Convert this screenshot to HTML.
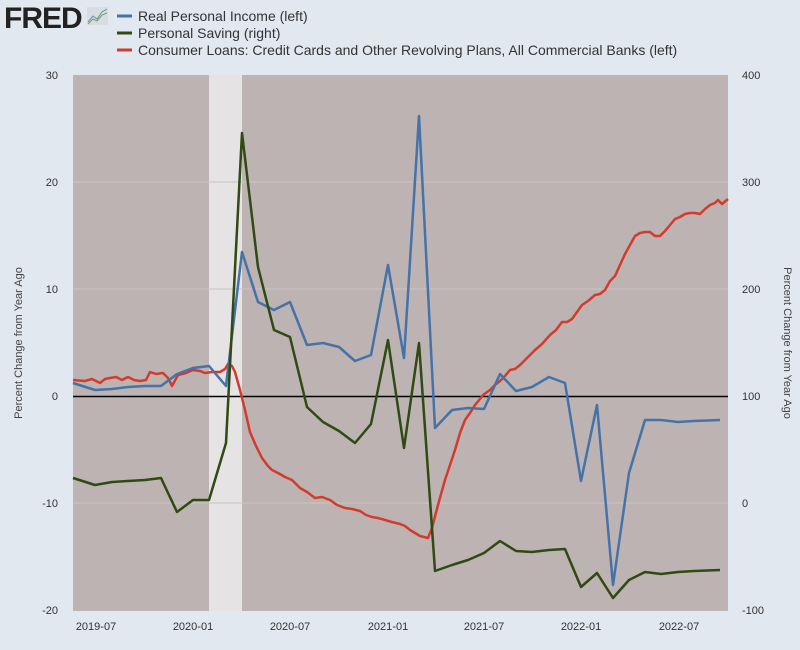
<!DOCTYPE html>
<html><head><style>
body{margin:0;background:#e1e8f0;}
svg text{font-family:"Liberation Sans",sans-serif;}
</style></head><body>
<svg width="800" height="645" xmlns="http://www.w3.org/2000/svg">
<rect width="800" height="645" fill="#e1e8f0"/>
<text x="4" y="28" font-size="30" font-weight="bold" fill="#222" letter-spacing="-1">FRED</text>
<rect x="87" y="7" width="21" height="18" fill="#d8dde4"/>
<polyline points="88,22 93,16 97,19 102,12 107,9" fill="none" stroke="#6a8cc0" stroke-width="1"/>
<polyline points="88,24 93,19 97,21 102,15 107,13" fill="none" stroke="#7aa050" stroke-width="1"/>
<line x1="117" y1="16" x2="132" y2="16" stroke="#4572a7" stroke-width="3"/>
<line x1="117" y1="33" x2="132" y2="33" stroke="#2f4a12" stroke-width="3"/>
<line x1="117" y1="50" x2="132" y2="50" stroke="#d33b2c" stroke-width="3"/>
<g font-size="14" fill="#333">
<text x="138" y="21">Real Personal Income (left)</text>
<text x="138" y="38">Personal Saving (right)</text>
<text x="138" y="55">Consumer Loans: Credit Cards and Other Revolving Plans, All Commercial Banks (left)</text>
</g>
<rect x="73" y="75" width="655" height="536" fill="#bdb3b3"/>
<rect x="209" y="75" width="33" height="536" fill="#e6e3e4"/>
<g stroke="#c9c3c5" stroke-width="1">
<line x1="73" y1="182" x2="728" y2="182"/><line x1="73" y1="289" x2="728" y2="289"/>
<line x1="73" y1="503" x2="728" y2="503"/>
</g>
<line x1="73" y1="396.5" x2="728" y2="396.5" stroke="#000" stroke-width="1.5"/>
<g font-size="11" fill="#333" text-anchor="end">
<text x="58" y="79">30</text><text x="58" y="186">20</text><text x="58" y="293">10</text>
<text x="58" y="400">0</text><text x="58" y="507">-10</text><text x="58" y="614">-20</text>
</g>
<g font-size="11" fill="#333" text-anchor="start">
<text x="742" y="79">400</text><text x="742" y="186">300</text><text x="742" y="293">200</text>
<text x="742" y="400">100</text><text x="742" y="507">0</text><text x="742" y="614">-100</text>
</g>
<g font-size="11" fill="#333" text-anchor="middle">
<text x="96" y="630">2019-07</text><text x="193" y="630">2020-01</text><text x="290" y="630">2020-07</text>
<text x="388" y="630">2021-01</text><text x="484" y="630">2021-07</text><text x="581" y="630">2022-01</text><text x="679" y="630">2022-07</text>
</g>
<text transform="translate(22,343) rotate(-90)" font-size="11" fill="#444" text-anchor="middle">Percent Change from Year Ago</text>
<text transform="translate(784,343) rotate(90)" font-size="11" fill="#444" text-anchor="middle">Percent Change from Year Ago</text>
<polyline fill="none" stroke="#d33b2c" stroke-width="2.5" stroke-linejoin="round" points="73,380 85,381 92,379 100,383 105,379 110,378 116,377 122,380 128,377 134,380 140,381 146,380 150,372 156,374 163,373 168,378 172,386 178,375 186,373 193,370 200,371 205,373 212,372 220,372 225,369 228,364 232,366 235,372 240,390 245,410 250,432 256,446 262,458 268,466 272,470 278,473 285,477 292,480 300,488 307,492 315,498 322,497 330,500 337,505 345,508 352,509 360,511 366,515 372,517 378,518 385,520 392,522 400,524 405,526 410,530 415,533 420,536 428,538 432,528 438,505 445,480 450,465 455,450 460,433 465,420 470,413 475,405 480,399 483,395 490,390 495,385 500,381 505,376 510,370 515,369 520,365 527,358 535,350 542,344 550,335 556,330 562,322 567,322 572,319 577,312 582,305 588,301 595,295 600,294 605,290 610,281 615,276 620,265 625,254 630,245 635,236 640,233 645,232 650,232 655,236 660,236 665,231 670,225 675,219 680,217 685,214 690,213 695,213 700,214 705,209 710,205 715,203 718,200 722,204 728,199"/>
<polyline fill="none" stroke="#4572a7" stroke-width="2.5" stroke-linejoin="round" points="73,383 95,390 112,389 128,387 145,386 161,386 177,374 193,368 209,366 226,386 242,252 258,302 274,310 290,302 307,345 323,343 339,347 355,361 371,355 388,265 404,358 419,116 435,428 452,410 468,408 484,409 500,374 516,391 532,387 549,377 565,383 581,481 597,405 613,585 629,473 645,420 661,420 678,422 694,421 720,420"/>
<polyline fill="none" stroke="#2f4a12" stroke-width="2.5" stroke-linejoin="round" points="73,478 95,485 112,482 128,481 145,480 161,478 177,512 193,500 209,500 226,443 242,133 258,267 274,330 290,337 307,407 323,422 339,431 355,443 371,424 388,340 404,448 419,343 435,571 452,565 468,560 484,553 500,541 516,551 532,552 549,550 565,549 581,587 597,573 613,598 629,580 645,572 661,574 678,572 694,571 720,570"/>
</svg>
</body></html>
